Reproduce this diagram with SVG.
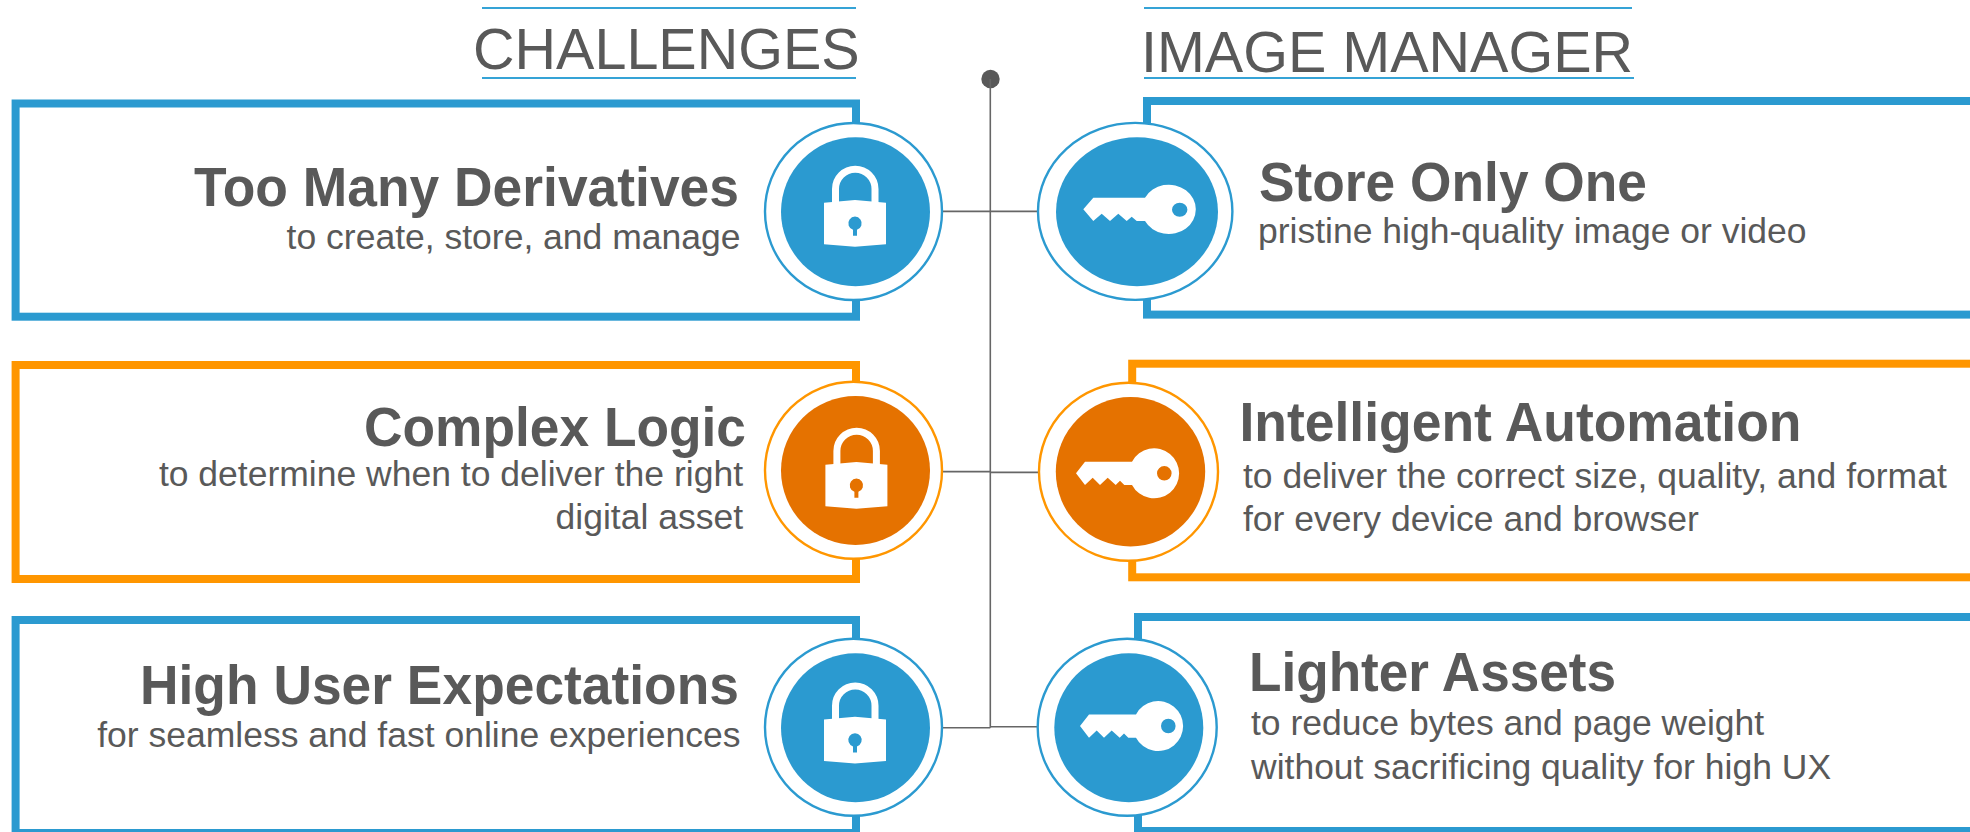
<svg xmlns="http://www.w3.org/2000/svg" xmlns:xlink="http://www.w3.org/1999/xlink" width="1970" height="832" viewBox="0 0 1970 832">
<style>
text{font-family:"Liberation Sans",Arial,sans-serif;fill:#595959}
.h{font-size:57.5px}
.t{font-size:55px;font-weight:700}
.s{font-size:35.5px}
.e{text-anchor:end}
.rule{stroke:#35a3d6;stroke-width:2.2;fill:none}
.box{fill:#fff;stroke-width:8}
.ring{fill:#fff;stroke-width:2.4}
.blue .box,.blue .ring{stroke:#2b9ad0}
.blue .disc{fill:#2b9ad0}
.orange .box,.orange .ring{stroke:#ff9600}
.orange .disc{fill:#e57200}
.conn{stroke:#666;stroke-width:1.6;fill:none}
.ico{fill:#fff;fill-rule:evenodd}
</style>
<defs>
<g id="lock">
<path d="M835.5 205V189a19.75 19.75 0 0 1 39.5 0V205" fill="none" stroke="#fff" stroke-width="7"/>
<path class="ico" d="M824 202.7L855 200L886 202.7V244.3L855 246.7L824 244.3ZM853 229.7A6.7 6.7 0 1 1 857 229.7V235.7H853Z"/>
</g>
<path id="keyRound" class="ico" d="M1076 473.3L1085 461.7H1132A25 25 0 1 1 1132 485H1124.3L1120 480.7L1115.7 485L1107.7 477.7L1100 485L1092.7 477.7L1085 485ZM1157 473.3a7.3 7.3 0 1 0 14.6 0a7.3 7.3 0 1 0-14.6 0Z"/>
</defs>
<g id="connectors" class="conn">
<circle cx="990.5" cy="79" r="9.2" fill="#595959" stroke="none"/>
<path d="M990.3 79V727.7"/>
<path d="M942 211.4H1038"/>
<path d="M942 471.6H990.3"/>
<path d="M990.3 472.4H1039"/>
<path d="M942 727.7H990.3"/>
<path d="M990.3 726.8H1038"/>
</g>
<g id="header-challenges">
<path class="rule" d="M482 8H856M482 78H856"/>
<text class="h" x="473" y="69">CHALLENGES</text>
</g>
<g id="header-image-manager">
<path class="rule" d="M1144 8H1632M1144 78H1634"/>
<text class="h" x="1141" y="71.5">IMAGE MANAGER</text>
</g>
<g id="challenge-1" class="blue">
<rect class="box" x="15.6" y="103.5" width="840.4" height="213.2"/>
<ellipse class="ring" cx="853.5" cy="211.5" rx="88.5" ry="88.5"/>
<circle class="disc" cx="855.5" cy="211.7" r="74.5"/>
<use href="#lock" xlink:href="#lock"/>
<text class="t e" x="739" y="205.7" textLength="545" lengthAdjust="spacingAndGlyphs">Too Many Derivatives</text>
<text class="s e" x="740.5" y="249.3">to create, store, and manage</text>
</g>
<g id="challenge-2" class="orange">
<rect class="box" x="15.6" y="365" width="840.4" height="214"/>
<ellipse class="ring" cx="853.5" cy="470.3" rx="88.5" ry="88.5"/>
<circle class="disc" cx="855.5" cy="470.5" r="74.5"/>
<use href="#lock" xlink:href="#lock" transform="translate(1.4 262)"/>
<text class="t e" x="746" y="446" textLength="382" lengthAdjust="spacingAndGlyphs">Complex Logic</text>
<text class="s e" x="743" y="486">to determine when to deliver the right</text>
<text class="s e" x="743" y="529.3">digital asset</text>
</g>
<g id="challenge-3" class="blue">
<rect class="box" x="15.6" y="620" width="840.4" height="213"/>
<ellipse class="ring" cx="853.5" cy="727.3" rx="88.5" ry="88.5"/>
<circle class="disc" cx="855.5" cy="727.8" r="74.5"/>
<use href="#lock" xlink:href="#lock" transform="translate(0 516.7)"/>
<text class="t e" x="739" y="704.3" textLength="599" lengthAdjust="spacingAndGlyphs">High User Expectations</text>
<text class="s e" x="740.5" y="747.3">for seamless and fast online experiences</text>
</g>
<g id="solution-1" class="blue">
<rect class="box" x="1147" y="101" width="840" height="213.6"/>
<ellipse class="ring" cx="1135.2" cy="211.4" rx="97.2" ry="88.5"/>
<ellipse class="disc" cx="1137" cy="211.7" rx="81" ry="74.5"/>
<path class="ico" d="M1083.3 209.3L1093.3 197.7H1145A27 24.7 0 1 1 1145 221H1136.7L1131.7 216.7L1126.7 221L1118.3 213.7L1110 221L1101.7 213.7L1093.3 221ZM1172 209.7a7.7 7 0 1 0 15.4 0a7.7 7 0 1 0-15.4 0Z"/>
<text class="t" x="1259" y="201" textLength="388" lengthAdjust="spacingAndGlyphs">Store Only One</text>
<text class="s" x="1258" y="242.7">pristine high-quality image or video</text>
</g>
<g id="solution-2" class="orange">
<rect class="box" x="1132.2" y="363.7" width="855" height="213.6"/>
<ellipse class="ring" cx="1128.5" cy="471.8" rx="89.5" ry="89"/>
<circle class="disc" cx="1130.5" cy="471.8" r="74.7"/>
<use href="#keyRound" xlink:href="#keyRound"/>
<text class="t" x="1239.5" y="441" textLength="562" lengthAdjust="spacingAndGlyphs">Intelligent Automation</text>
<text class="s" x="1243" y="488.3">to deliver the correct size, quality, and format</text>
<text class="s" x="1243" y="530.7">for every device and browser</text>
</g>
<g id="solution-3" class="blue">
<rect class="box" x="1138" y="617" width="850" height="214"/>
<ellipse class="ring" cx="1127.2" cy="727.3" rx="89.5" ry="88.5"/>
<circle class="disc" cx="1128.8" cy="727.8" r="74.5"/>
<use href="#keyRound" xlink:href="#keyRound" transform="translate(4 252.7)"/>
<text class="t" x="1249" y="691" textLength="367" lengthAdjust="spacingAndGlyphs">Lighter Assets</text>
<text class="s" x="1251" y="735">to reduce bytes and page weight</text>
<text class="s" x="1251" y="779">without sacrificing quality for high UX</text>
</g>
</svg>
